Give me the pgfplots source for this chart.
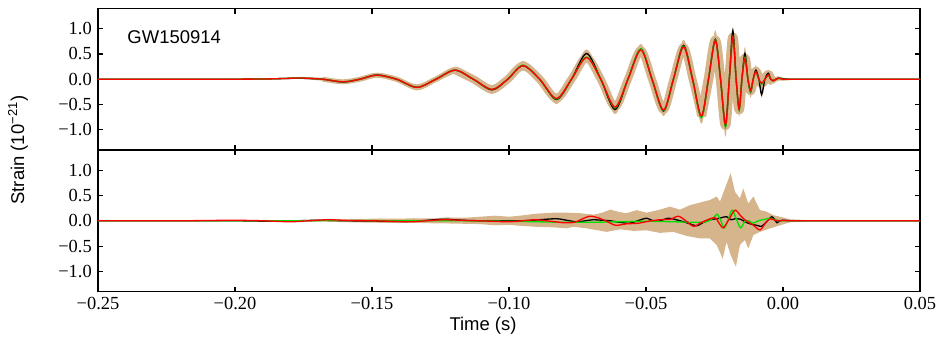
\documentclass[border=0pt]{standalone}
\usepackage{fontspec}
\setmainfont{Liberation Serif}
\setsansfont{Liberation Sans}
\usepackage{pgfplots}
\usepackage{pgfplotstable}
\pgfplotsset{compat=1.18}
\usepgfplotslibrary{fillbetween}
\definecolor{gwtan}{RGB}{214,180,140}
\definecolor{gwred}{HTML}{FF0000}
\definecolor{gwgreen}{HTML}{00E000}

% top panel: reconstructed waveforms and 90% band
\pgfplotstableread{
t red black green hi lo
-0.250 0 0 0 0.01 -0.01
-0.235 0 0 0 0.01 -0.01
-0.220 0 0 0 0.01 -0.01
-0.205 0 0 0 0.01 -0.01
-0.190 0.005 0.005 0.005 0.015 -0.005
-0.182 0.015 0.015 0.015 0.03 0.0
-0.176 0.025 0.02 0.025 0.045 0.005
-0.168 0 0 0 0.03 -0.03
-0.1606 -0.05 -0.055 -0.05 -0.015 -0.085
-0.1545 0 0 0 0.04 -0.04
-0.1482 0.08 0.085 0.08 0.125 0.035
-0.1410 0 0 0 0.05 -0.05
-0.1336 -0.16 -0.16 -0.16 -0.10 -0.22
-0.1267 0 0 0 0.06 -0.06
-0.1197 0.18 0.18 0.18 0.245 0.115
-0.1130 0 0 0 0.07 -0.07
-0.1062 -0.20 -0.21 -0.20 -0.12 -0.29
-0.1005 0 0 0 0.08 -0.08
-0.0949 0.27 0.27 0.28 0.36 0.17
-0.0888 0 0 0 0.09 -0.09
-0.0827 -0.38 -0.40 -0.39 -0.28 -0.49
-0.0772 0 0 0 0.10 -0.10
-0.0717 0.43 0.51 0.44 0.59 0.33
-0.0665 0 0 0 0.10 -0.10
-0.0613 -0.55 -0.60 -0.56 -0.44 -0.69
-0.0566 0 0 0 0.10 -0.10
-0.0519 0.58 0.60 0.60 0.70 0.47
-0.0478 0 0 0 0.10 -0.10
-0.0436 -0.61 -0.63 -0.62 -0.50 -0.73
-0.0400 0 0 0 0.11 -0.11
-0.0363 0.64 0.67 0.65 0.78 0.52
-0.0330 0 0 0 0.12 -0.12
-0.0298 -0.73 -0.75 -0.76 -0.60 -0.88
-0.0272 0 0 0 0.13 -0.13
-0.0247 0.77 0.79 0.78 0.97 0.58
-0.0228 0 0 0 0.13 -0.13
-0.0210 -0.91 -0.92 -0.95 -0.76 -1.14
-0.0196 0 0 0 0.13 -0.13
-0.0183 0.83 0.96 0.84 1.04 0.66
-0.0171 0 0 0 0.13 -0.13
-0.0160 -0.60 -0.58 -0.62 -0.46 -0.74
-0.0150 0 0 0 0.13 -0.13
-0.0139 0.41 0.51 0.43 0.64 0.28
-0.0128 0 0 0 0.12 -0.12
-0.0118 -0.22 -0.25 -0.24 -0.10 -0.37
-0.0109 0 0 0 0.10 -0.10
-0.0099 0.15 0.18 0.14 0.28 0.04
-0.0088 0 0 0 0.09 -0.09
-0.0078 -0.08 -0.30 -0.10 0.03 -0.37
-0.0066 0 0 0 0.08 -0.08
-0.0054 0.09 0.12 0.08 0.18 0.0
-0.0045 0 0 0 0.06 -0.06
-0.0036 -0.03 -0.03 -0.02 0.03 -0.09
-0.0018 0.02 0.02 0.02 0.06 -0.03
0.0000 0 0.01 0 0.03 -0.03
0.0020 0 0 0 0.02 -0.02
0.0050 0 0 0 0.012 -0.012
0.0100 0 0 0 0.01 -0.01
0.0180 0 0 0 0.01 -0.01
0.0300 0 0 0 0.01 -0.01
0.0500 0 0 0 0.01 -0.01
}\toptab

\pgfplotsset{
  gwaxis/.style={
    width=16.44cm, height=2.83cm, scale only axis,
    xmin=-0.25, xmax=0.05, ymin=-1.4, ymax=1.4,
    xtick={-0.25,-0.2,-0.15,-0.1,-0.05,0,0.05},
    ytick={-1,-0.5,0,0.5,1},
    yticklabels={−1.0,−0.5,0.0,0.5,1.0},
    axis line style={line width=0.75pt},
    major tick length=0.1cm,
    every tick/.style={black, line width=0.6pt},
    tick label style={font=\fontsize{10.5}{12}\selectfont},
  },
  wave/.style={line width=0.75pt, smooth},
  band/.style={gwtan, smooth, line join=round},
}

\begin{document}
\begin{tikzpicture}

\begin{axis}[gwaxis, at={(0,0)}, anchor=north west, xticklabels={}]
\addplot[draw=none, smooth, name path=hi] table[x=t, y=hi]{\toptab};
\addplot[draw=none, smooth, name path=lo] table[x=t, y=lo]{\toptab};
\addplot[fill=gwtan, draw=none] fill between[of=hi and lo];
\addplot[band, line width=2.8pt, restrict x to domain=-0.172:-0.119] table[x=t, y=red]{\toptab};
\addplot[band, line width=4.5pt, restrict x to domain=-0.120:-0.0297] table[x=t, y=red]{\toptab};
\addplot[band, line width=5.5pt, restrict x to domain=-0.0299:-0.0035] table[x=t, y=red]{\toptab};
\addplot[black, wave] table[x=t, y=black]{\toptab};
\addplot[gwgreen, wave] table[x=t, y=green]{\toptab};
\addplot[gwred, wave] table[x=t, y=red]{\toptab};
\node[anchor=west, font=\sffamily\fontsize{10.5}{12}\selectfont] at (axis cs:-0.2415,0.84) {GW150914};
\end{axis}

\begin{axis}[gwaxis, at={(0,-2.83cm)}, anchor=north west,
  xticklabels={−0.25,−0.20,−0.15,−0.10,−0.05,0.00,0.05}]
\addplot[draw=none, name path=bhi] coordinates {
(-0.25,0.01) (-0.20,0.012) (-0.17,0.015) (-0.158,0.03) (-0.147,0.045) (-0.14,0.04)
(-0.135,0.05) (-0.128,0.045) (-0.1228,0.066) (-0.116,0.06) (-0.1106,0.08) (-0.105,0.10)
(-0.100,0.08) (-0.096,0.10) (-0.090,0.14) (-0.0838,0.16) (-0.0790,0.16) (-0.0741,0.15)
(-0.0690,0.12) (-0.0660,0.16) (-0.0631,0.22) (-0.0595,0.17) (-0.0571,0.15) (-0.0534,0.21)
(-0.0498,0.16) (-0.0449,0.22) (-0.0413,0.28) (-0.0376,0.22) (-0.0339,0.31) (-0.0303,0.36)
(-0.0267,0.41) (-0.0242,0.48) (-0.0230,0.38) (-0.0212,0.64) (-0.0191,0.94) (-0.0175,0.57)
(-0.0157,0.44) (-0.0145,0.64) (-0.0127,0.34) (-0.0108,0.48) (-0.0084,0.21) (-0.0060,0.18)
(-0.0035,0.11) (-0.0011,0.08) (0.0025,0.03) (0.008,0.015) (0.017,0.01) (0.05,0.01)};
\addplot[draw=none, name path=blo] coordinates {
(-0.25,-0.01) (-0.20,-0.012) (-0.17,-0.015) (-0.158,-0.03) (-0.147,-0.04) (-0.14,-0.045)
(-0.135,-0.04) (-0.128,-0.05) (-0.1228,-0.053) (-0.116,-0.06) (-0.1106,-0.066) (-0.105,-0.09)
(-0.100,-0.08) (-0.096,-0.10) (-0.090,-0.12) (-0.0838,-0.13) (-0.0790,-0.15) (-0.0765,-0.12)
(-0.0717,-0.15) (-0.0644,-0.22) (-0.0595,-0.17) (-0.0546,-0.20) (-0.0498,-0.19) (-0.0449,-0.24)
(-0.0400,-0.22) (-0.0352,-0.30) (-0.0303,-0.35) (-0.0267,-0.35) (-0.0242,-0.48) (-0.0220,-0.75)
(-0.0206,-0.42) (-0.0191,-0.68) (-0.0172,-0.91) (-0.0157,-0.48) (-0.0139,-0.38) (-0.0127,-0.55)
(-0.0108,-0.28) (-0.0084,-0.22) (-0.0047,-0.15) (-0.0011,-0.09) (0.0025,-0.03) (0.008,-0.015)
(0.017,-0.01) (0.05,-0.01)};
\addplot[fill=gwtan, draw=none] fill between[of=bhi and blo];
% residual: black
\addplot[black, wave] coordinates {
(-0.25,0) (-0.235,0) (-0.22,0) (-0.20,0.0) (-0.185,-0.01) (-0.170,0.01) (-0.160,0.0)
(-0.150,-0.005) (-0.140,-0.015) (-0.132,0.0) (-0.124,0.03) (-0.117,0.01) (-0.110,0.0)
(-0.102,0.0) (-0.095,0.0) (-0.089,0.02) (-0.0827,0.04) (-0.0790,0.01) (-0.0754,-0.02)
(-0.0720,0.0) (-0.0693,0.02) (-0.0660,0.01) (-0.0632,0.0) (-0.0595,-0.03) (-0.0560,-0.05)
(-0.0530,0.0) (-0.0498,0.05) (-0.0475,0.0) (-0.0455,-0.01) (-0.0418,0.05) (-0.0390,0.02)
(-0.0363,-0.02) (-0.0340,-0.06) (-0.0315,-0.10) (-0.0290,-0.03) (-0.0266,0.02) (-0.0240,0.04)
(-0.0225,0.06) (-0.0206,0.08) (-0.0190,0.02) (-0.0175,0.04) (-0.0155,0.03) (-0.0135,-0.03)
(-0.0115,-0.07) (-0.0096,-0.09) (-0.0078,-0.11) (-0.0060,-0.02) (-0.0041,0.08) (-0.0030,0.02)
(-0.0022,-0.04) (-0.0012,0.0) (0.0,0.01) (0.003,0.0) (0.008,0) (0.015,0) (0.025,0) (0.037,0) (0.05,0)};
% residual: green
\addplot[gwgreen, wave] coordinates {
(-0.25,0) (-0.235,0) (-0.22,0) (-0.20,0.0) (-0.18,0.0) (-0.16,0.005) (-0.14,0.0) (-0.12,0.0)
(-0.10,-0.01) (-0.09,-0.02) (-0.08,-0.03) (-0.07,-0.03) (-0.06,-0.02) (-0.05,-0.01)
(-0.040,-0.02) (-0.032,-0.03) (-0.0280,-0.02) (-0.0255,0.05) (-0.0240,0.13) (-0.0227,0.0)
(-0.0214,-0.14) (-0.0200,0.02) (-0.0186,0.21) (-0.0170,0.03) (-0.0155,-0.14) (-0.0140,-0.02)
(-0.0125,0.0) (-0.0110,-0.05) (-0.0090,0.0) (-0.0065,0.03) (-0.0045,0.05) (-0.0030,0.02)
(-0.0015,0.0) (0.0,0.0) (0.003,0) (0.008,0) (0.015,0) (0.025,0) (0.037,0) (0.05,0)};
% residual: red
\addplot[gwred, wave] coordinates {
(-0.25,0) (-0.235,0) (-0.22,0) (-0.21,0.005) (-0.20,0.01) (-0.19,0) (-0.18,-0.02) (-0.173,0)
(-0.166,0.02) (-0.158,0.005) (-0.15,0) (-0.143,-0.01) (-0.136,-0.02) (-0.130,0.0) (-0.124,0.02)
(-0.118,0.01) (-0.112,0.0) (-0.106,-0.01) (-0.100,-0.02) (-0.095,0) (-0.090,0.02) (-0.0865,0.0)
(-0.083,-0.02) (-0.0800,-0.04) (-0.0760,-0.03) (-0.0735,0.03) (-0.0704,0.09) (-0.0670,0.05)
(-0.0640,-0.02) (-0.0610,-0.09) (-0.0570,-0.06) (-0.0530,-0.05) (-0.0490,-0.01) (-0.0450,0.02)
(-0.0410,0.03) (-0.0382,0.09) (-0.0355,0.0) (-0.0327,-0.11) (-0.0300,-0.04) (-0.0275,0.02)
(-0.0248,0.06) (-0.0233,-0.05) (-0.0218,-0.14) (-0.0198,0.02) (-0.0175,0.21) (-0.0155,0.10)
(-0.0135,0.0) (-0.0110,-0.08) (-0.0084,-0.18) (-0.0062,-0.03) (-0.0045,0.04) (-0.0030,0.01)
(-0.0015,0.0) (0.0,0.005) (0.003,0) (0.008,0) (0.015,0) (0.025,0) (0.037,0) (0.05,0)};
\end{axis}

\node[rotate=90, font=\sffamily\fontsize{10.5}{12}\selectfont] at (-1.6cm,-2.83cm) {Strain (10\textsuperscript{−21})};
\node[font=\sffamily\fontsize{10.5}{12}\selectfont] at (7.7cm,-6.35cm) {Time (s)};
\path (-1.96cm,0.17cm) rectangle (16.94cm,-6.75cm);
\end{tikzpicture}
\end{document}
